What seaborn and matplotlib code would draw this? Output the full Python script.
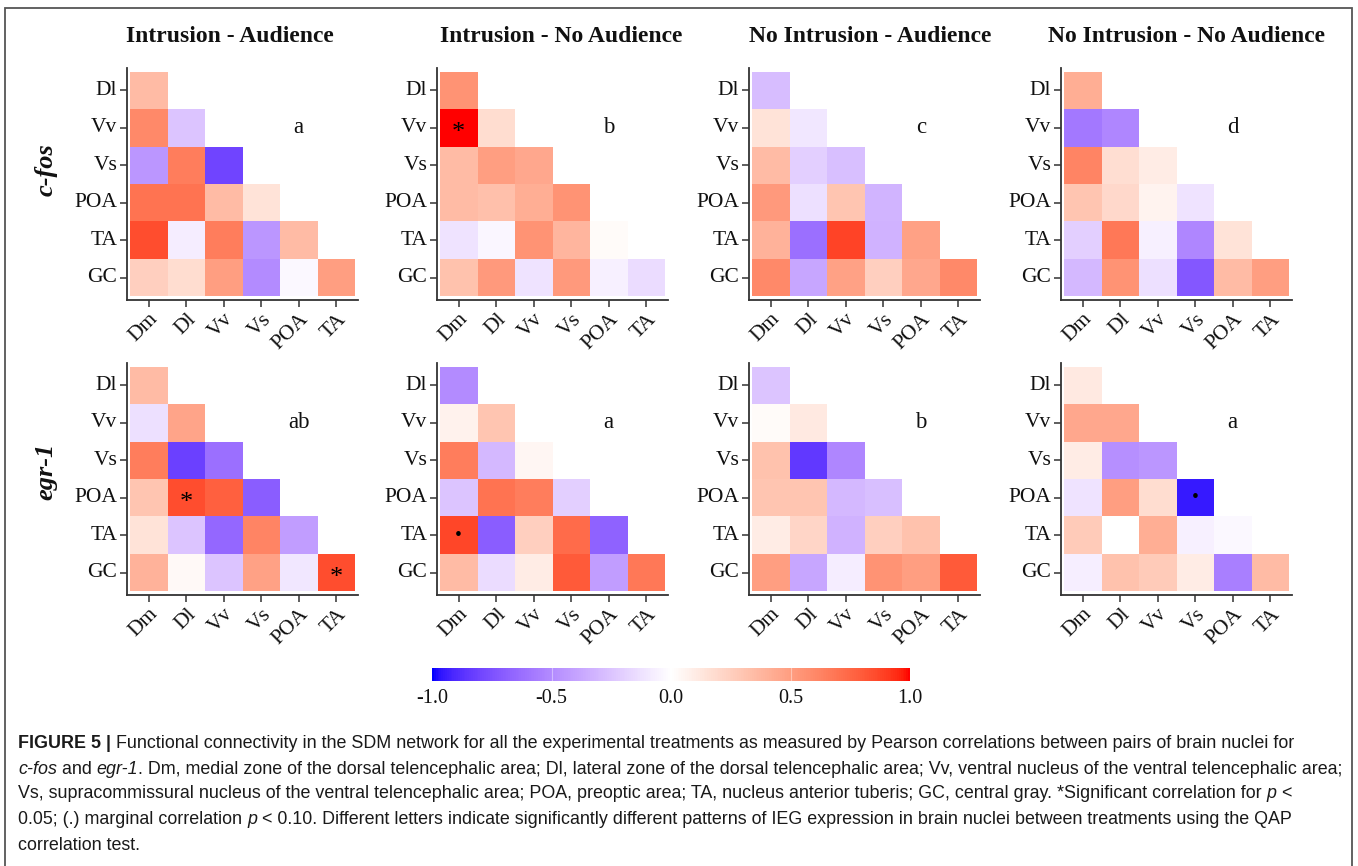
import numpy as np
import pandas as pd
import matplotlib
matplotlib.use("Agg")
import matplotlib.pyplot as plt
import seaborn as sns
from matplotlib.colors import ListedColormap
from matplotlib.patches import Rectangle
from matplotlib import font_manager

# ---------------- data ----------------
row_nuclei = ["Dl", "Vv", "Vs", "POA", "TA", "GC"]
col_nuclei = ["Dm", "Dl", "Vv", "Vs", "POA", "TA"]
genes = ["c-fos", "egr-1"]
treatments = ["Intrusion - Audience", "Intrusion - No Audience",
              "No Intrusion - Audience", "No Intrusion - No Audience"]

# lower-triangle correlations, row by row (Dl, Vv, Vs, POA, TA, GC)
cfos_intr_aud = [[0.35], [0.60, -0.25], [-0.45, 0.65, -0.80],
                 [0.70, 0.70, 0.35, 0.15], [0.85, -0.08, 0.65, -0.45, 0.35],
                 [0.25, 0.18, 0.50, -0.50, -0.03, 0.50]]
cfos_intr_noaud = [[0.55], [1.00, 0.18], [0.35, 0.50, 0.45],
                   [0.35, 0.33, 0.42, 0.55], [-0.12, -0.04, 0.55, 0.38, 0.02],
                   [0.32, 0.52, -0.12, 0.52, -0.06, -0.15]]
cfos_nointr_aud = [[-0.28], [0.15, -0.10], [0.35, -0.20, -0.27],
                   [0.52, -0.13, 0.30, -0.32], [0.40, -0.62, 0.88, -0.33, 0.48],
                   [0.60, -0.38, 0.48, 0.25, 0.45, 0.60]]
cfos_nointr_noaud = [[0.42], [-0.58, -0.52], [0.62, 0.17, 0.10],
                     [0.30, 0.20, 0.06, -0.12], [-0.20, 0.68, -0.06, -0.52, 0.15],
                     [-0.30, 0.55, -0.13, -0.72, 0.35, 0.50]]
egr_intr_aud = [[0.35], [-0.13, 0.47], [0.65, -0.82, -0.62],
                [0.30, 0.85, 0.78, -0.70], [0.15, -0.25, -0.65, 0.62, -0.42],
                [0.40, 0.03, -0.25, 0.48, -0.10, 0.85]]
egr_intr_noaud = [[-0.50], [0.07, 0.30], [0.65, -0.30, 0.05],
                  [-0.25, 0.70, 0.65, -0.20], [0.87, -0.70, 0.25, 0.73, -0.68],
                  [0.35, -0.15, 0.10, 0.80, -0.42, 0.68]]
egr_nointr_aud = [[-0.25], [0.02, 0.12], [0.32, -0.85, -0.52],
                  [0.30, 0.30, -0.30, -0.27], [0.10, 0.22, -0.33, 0.25, 0.32],
                  [0.50, -0.38, -0.08, 0.55, 0.50, 0.80]]
egr_nointr_noaud = [[0.12], [0.45, 0.45], [0.10, -0.48, -0.45],
                    [-0.12, 0.50, 0.18, -0.95], [0.27, 0.00, 0.42, -0.06, -0.03],
                    [-0.07, 0.32, 0.27, 0.10, -0.55, 0.35]]

panel_values = {
    ("c-fos", treatments[0]): cfos_intr_aud,
    ("c-fos", treatments[1]): cfos_intr_noaud,
    ("c-fos", treatments[2]): cfos_nointr_aud,
    ("c-fos", treatments[3]): cfos_nointr_noaud,
    ("egr-1", treatments[0]): egr_intr_aud,
    ("egr-1", treatments[1]): egr_intr_noaud,
    ("egr-1", treatments[2]): egr_nointr_aud,
    ("egr-1", treatments[3]): egr_nointr_noaud,
}

qap_letters_cfos = ["a", "b", "c", "d"]
qap_letters_egr = ["ab", "a", "b", "a"]

# significance marks: (gene, treatment, row nucleus, column nucleus, mark)
sig_marks = [
    ("c-fos", "Intrusion - No Audience", "Vv", "Dm", "*"),
    ("egr-1", "Intrusion - Audience", "POA", "Dl", "*"),
    ("egr-1", "Intrusion - Audience", "GC", "TA", "*"),
    ("egr-1", "Intrusion - No Audience", "TA", "Dm", "\u2022"),
    ("egr-1", "No Intrusion - No Audience", "POA", "Vs", "\u2022"),
]

cbar_ticks = [-1.0, -0.5, 0.0, 0.5, 1.0]

caption_lines = [
    [("FIGURE 5 |", "bold", "normal"),
     (" Functional connectivity in the SDM network for all the experimental treatments as measured by Pearson correlations between pairs of brain nuclei for", "normal", "normal")],
    [("c-fos", "normal", "italic"), (" and ", "normal", "normal"), ("egr-1", "normal", "italic"),
     (". Dm, medial zone of the dorsal telencephalic area; Dl, lateral zone of the dorsal telencephalic area; Vv, ventral nucleus of the ventral telencephalic area;", "normal", "normal")],
    [("Vs, supracommissural nucleus of the ventral telencephalic area; POA, preoptic area; TA, nucleus anterior tuberis; GC, central gray. *Significant correlation for ", "normal", "normal"),
     ("p", "normal", "italic"), (" <", "normal", "normal")],
    [("0.05; (.) marginal correlation ", "normal", "normal"), ("p", "normal", "italic"),
     (" < 0.10. Different letters indicate significantly different patterns of IEG expression in brain nuclei between treatments using the QAP", "normal", "normal")],
    [("correlation test.", "normal", "normal")],
]

# ---------------- colormap (Lab interpolation blue-white-red) ----------------
M = np.array([[0.4124564, 0.3575761, 0.1804375],
              [0.2126729, 0.7151522, 0.0721750],
              [0.0193339, 0.1191920, 0.9503041]])
Minv = np.linalg.inv(M)
WP = np.array([0.95047, 1.0, 1.08883])
D = 6 / 29


def srgb2lab(rgb):
    rgb = np.asarray(rgb, float)
    lin = np.where(rgb <= 0.04045, rgb / 12.92, ((rgb + 0.055) / 1.055) ** 2.4)
    t = (M @ lin) / WP
    f = np.where(t > D ** 3, np.cbrt(t), t / (3 * D * D) + 4 / 29)
    return np.array([116 * f[1] - 16, 500 * (f[0] - f[1]), 200 * (f[1] - f[2])])


def lab2srgb(lab):
    L, a, b = lab
    fy = (L + 16) / 116
    f = np.array([fy + a / 500, fy, fy - b / 200])
    t = np.where(f > D, f ** 3, 3 * D * D * (f - 4 / 29))
    lin = np.clip(Minv @ (t * WP), 0, 1)
    rgb = np.where(lin <= 0.0031308, 12.92 * lin, 1.055 * lin ** (1 / 2.4) - 0.055)
    return np.clip(rgb, 0, 1)


lab_blue = srgb2lab([0, 0, 1])
lab_white = srgb2lab([1, 1, 1])
lab_red = srgb2lab([1, 0, 0])
cols = []
for v in np.linspace(-1, 1, 257):
    if v < 0:
        w = -v
        lab = lab_white * (1 - w) + lab_blue * w
    else:
        lab = lab_white * (1 - v) + lab_red * v
    cols.append(lab2srgb(lab))
cmap = ListedColormap(cols)

# ---------------- figure ----------------
W, H = 1358, 866
fig = plt.figure(figsize=(W / 100, H / 100), dpi=100)
serif = "Liberation Serif"
txt_col = "#111111"
axis_col = "#333333"

panel_left = [127, 437, 749, 1061]
panel_w = 231
row_top = [68, 363]
panel_h = 232
title_x = [230, 561, 870, 1187]


def fx(px):
    return px / W


def fy(py):
    return 1 - py / H


mappable = None
for gi, gene in enumerate(genes):
    letters = qap_letters_cfos if gene == "c-fos" else qap_letters_egr
    for ti, trt in enumerate(treatments):
        vals = panel_values[(gene, trt)]
        mat = np.full((6, 6), np.nan)
        for r, rowvals in enumerate(vals):
            mat[r, :len(rowvals)] = rowvals
        df = pd.DataFrame(mat, index=row_nuclei, columns=col_nuclei)
        annot = pd.DataFrame("", index=row_nuclei, columns=col_nuclei)
        for g, t, rn, cn, mk in sig_marks:
            if g == gene and t == trt:
                annot.loc[rn, cn] = mk
        ax = fig.add_axes([fx(panel_left[ti]), fy(row_top[gi] + panel_h),
                           fx(panel_w), panel_h / H])
        sns.heatmap(df, ax=ax, cmap=cmap, vmin=-1, vmax=1, cbar=False,
                    annot=annot.values, fmt="",
                    annot_kws={"color": "black", "fontsize": 19, "family": serif})
        for tx in ax.texts:
            if tx.get_text() == "\u2022":
                tx.set_fontsize(14)
            elif tx.get_text() == "*":
                x0, y0 = tx.get_position()
                tx.set_position((x0, y0 + 0.15))
        ax.set_xlim(-0.08, 6.08)
        ax.set_ylim(6.1, -0.1)
        ax.set_xlabel("")
        ax.set_ylabel("")
        for side in ["left", "bottom"]:
            ax.spines[side].set_visible(True)
            ax.spines[side].set_color(axis_col)
            ax.spines[side].set_linewidth(1.3)
        for side in ["top", "right"]:
            ax.spines[side].set_visible(False)
        ax.tick_params(length=5, width=1.1, color=axis_col, pad=2)
        ax.set_xticklabels(col_nuclei, rotation=45, ha="right",
                           rotation_mode="anchor", family=serif, fontsize=15.5,
                           color=txt_col)
        ax.set_yticklabels(row_nuclei, rotation=0, family=serif, fontsize=15.5,
                           color=txt_col)
        ax.text(4.5, 1.5, letters[ti], ha="center", va="center",
                family=serif, fontsize=16.5, color=txt_col)
        if gi == 0:
            fig.text(fx(title_x[ti]), fy(37), trt, ha="center", va="center",
                     family=serif, fontsize=17, fontweight="bold", color=txt_col)
        mappable = ax.collections[0]

fig.text(fx(46), fy(170), "c-fos", rotation=90, ha="center", va="center",
         family=serif, fontsize=19, fontweight="bold", fontstyle="italic", color=txt_col)
fig.text(fx(46), fy(471), "egr-1", rotation=90, ha="center", va="center",
         family=serif, fontsize=19, fontweight="bold", fontstyle="italic", color=txt_col)

# colorbar
cax = fig.add_axes([fx(432), fy(681), fx(478), 13 / H])
cb = fig.colorbar(mappable, cax=cax, orientation="horizontal", ticks=cbar_ticks)
cb.outline.set_visible(False)
cax.tick_params(length=0, pad=6)
cax.set_xticklabels([f"{t:.1f}" for t in cbar_ticks], family=serif, fontsize=14.5,
                    color=txt_col)
for t in cbar_ticks[1:-1]:
    cax.axvline(t, color="white", lw=0.8, alpha=0.4)

# border
fig.patches.append(Rectangle((fx(5), -0.01), fx(1347), fy(8) + 0.01,
                             transform=fig.transFigure, fill=False,
                             edgecolor="#555555", lw=1.3))

# caption
avail = {f.name for f in font_manager.fontManager.ttflist}
cap_font = "Liberation Sans Narrow" if "Liberation Sans Narrow" in avail else "Liberation Sans"
fig.canvas.draw()
renderer = fig.canvas.get_renderer()


def seg_width(s, size, weight, style):
    t1 = fig.text(0, 0, "|" + s + "|", fontsize=size, family=cap_font,
                  fontweight=weight, fontstyle=style)
    t2 = fig.text(0, 0, "||", fontsize=size, family=cap_font,
                  fontweight=weight, fontstyle=style)
    w = t1.get_window_extent(renderer).width - t2.get_window_extent(renderer).width
    t1.remove()
    t2.remove()
    return w


test_size = 12
line2_w = sum(seg_width(s, test_size, w, st) for s, w, st in caption_lines[1])
cap_size = test_size * (1345 - 18) / line2_w

cap_y = [743, 769, 794, 820, 846]
for line, yy in zip(caption_lines, cap_y):
    x = 18
    for s, w, st in line:
        fig.text(fx(x), fy(yy), s, fontsize=cap_size, family=cap_font,
                 fontweight=w, fontstyle=st, va="center", ha="left", color="#1a1a1a")
        x += seg_width(s, cap_size, w, st)

fig.savefig("out.png", dpi=100)
